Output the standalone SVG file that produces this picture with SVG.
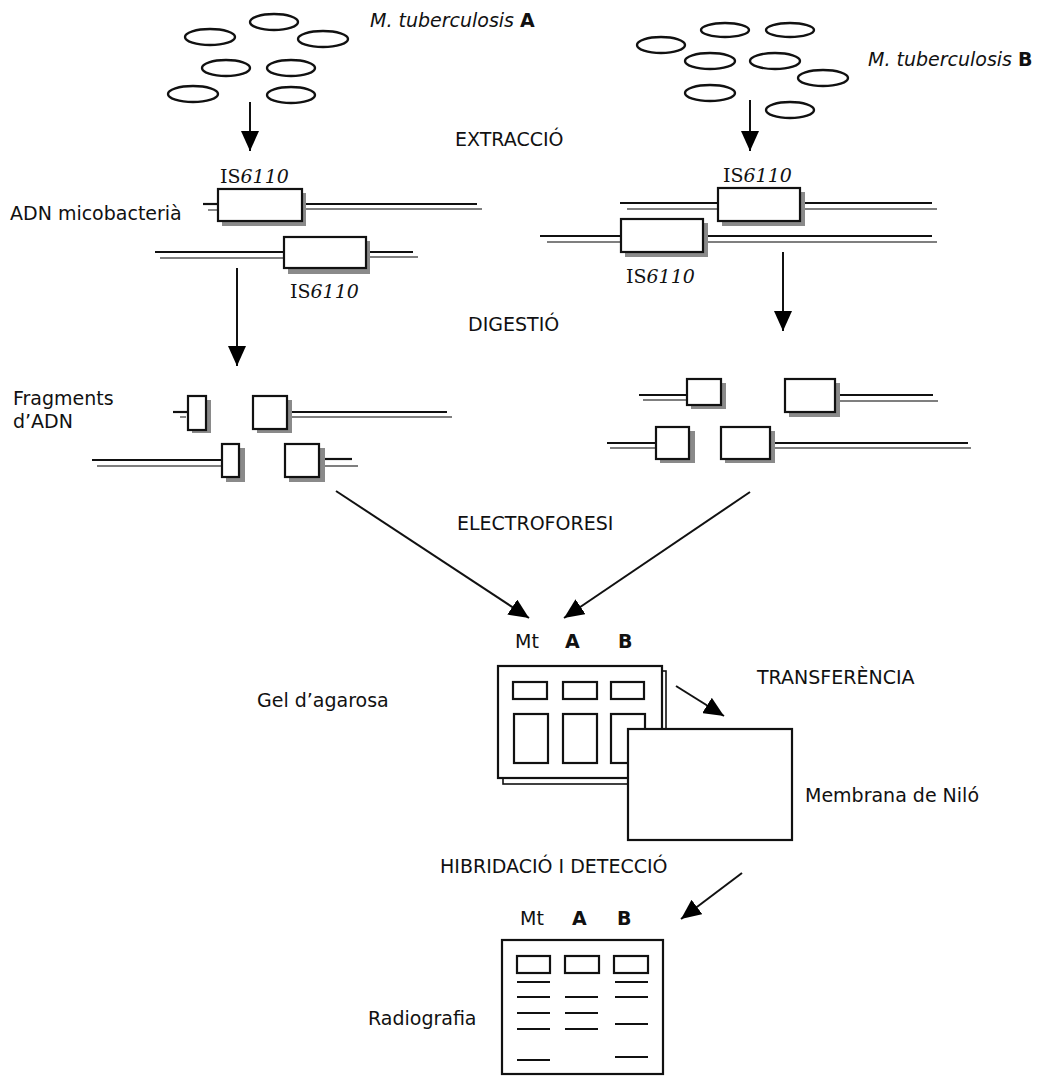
<svg xmlns="http://www.w3.org/2000/svg" width="1047" height="1077" viewBox="0 0 1047 1077">
<defs>
<marker id="ah" viewBox="0 0 20 18" refX="20" refY="9" markerWidth="20" markerHeight="18" markerUnits="userSpaceOnUse" orient="auto">
<path d="M0,0 L20,9 L0,18 z" fill="#000"/>
</marker>
</defs>
<style>
text{font-family:"DejaVu Sans","Verdana",sans-serif;font-size:19px;fill:#111}
.is{font-family:"DejaVu Serif","Liberation Serif",serif;font-size:19px}
.it{font-style:italic}
.b{font-weight:bold}
.cell{fill:none;stroke:#111;stroke-width:2.2}
.box{fill:#fff;stroke:#111;stroke-width:2.2}
.sh{fill:#8a8a8a}
.dna1{stroke:#111;stroke-width:2.2}
.dna2{stroke:#555;stroke-width:1.4}
.arr{stroke:#111;stroke-width:2;fill:none;marker-end:url(#ah)}
.band{stroke:#111;stroke-width:2}
.wellr{fill:#fff;stroke:#111;stroke-width:2.2}
</style>
<rect width="1047" height="1077" fill="#fff"/>

<g id="bacteriaA" fill="none" stroke="#111" stroke-width="2.4">
<ellipse cx="274" cy="22" rx="24" ry="8"/>
<ellipse cx="210" cy="37" rx="25" ry="8"/>
<ellipse cx="323" cy="39" rx="25" ry="8"/>
<ellipse cx="226" cy="68" rx="24" ry="8"/>
<ellipse cx="291" cy="68" rx="24" ry="8"/>
<ellipse cx="193" cy="94" rx="25" ry="8"/>
<ellipse cx="291" cy="95" rx="24" ry="8"/>
</g>
<g id="labelA"><text x="370" y="27"><tspan class="it">M. tuberculosis</tspan> <tspan class="b">A</tspan></text></g>

<g id="bacteriaB" fill="none" stroke="#111" stroke-width="2.4">
<ellipse cx="661" cy="45" rx="24" ry="8"/>
<ellipse cx="725" cy="30" rx="24" ry="7"/>
<ellipse cx="790" cy="30" rx="24" ry="7"/>
<ellipse cx="710" cy="61" rx="25" ry="8"/>
<ellipse cx="775" cy="61" rx="25" ry="8"/>
<ellipse cx="823" cy="78" rx="25" ry="8"/>
<ellipse cx="710" cy="93" rx="25" ry="8"/>
<ellipse cx="790" cy="110" rx="24" ry="8"/>
</g>
<g id="labelB"><text x="868" y="66"><tspan class="it">M. tuberculosis</tspan> <tspan class="b">B</tspan></text></g>

<g id="steps">
<text x="455" y="146">EXTRACCIÓ</text>
<text x="468" y="331">DIGESTIÓ</text>
<text x="457" y="530">ELECTROFORESI</text>
<text x="757" y="684">TRANSFERÈNCIA</text>
<text x="440" y="873">HIBRIDACIÓ I DETECCIÓ</text>
</g>

<g id="dnaA">
<text x="10" y="220">ADN micobacterià</text>
<text class="is" x="220" y="183">IS<tspan class="it">6110</tspan></text>
<text class="is" x="290" y="298">IS<tspan class="it">6110</tspan></text>
<line class="dna1" x1="203" y1="204" x2="218" y2="204"/>
<line class="dna2" x1="208" y1="210" x2="218" y2="210"/>
<line class="dna1" x1="306" y1="204" x2="477" y2="204"/>
<line class="dna2" x1="306" y1="209" x2="482" y2="209"/>
<rect class="sh" x="222" y="193" width="84" height="33"/>
<rect class="box" x="218" y="189" width="84" height="32"/>
<line class="dna1" x1="155" y1="252" x2="284" y2="252"/>
<line class="dna2" x1="160" y1="258" x2="284" y2="258"/>
<line class="dna1" x1="370" y1="252" x2="413" y2="252"/>
<line class="dna2" x1="370" y1="257" x2="418" y2="257"/>
<rect class="sh" x="288" y="241" width="82" height="33"/>
<rect class="box" x="284" y="237" width="82" height="31"/>
</g>

<g id="dnaB">
<text class="is" x="723" y="182">IS<tspan class="it">6110</tspan></text>
<text class="is" x="626" y="283">IS<tspan class="it">6110</tspan></text>
<line class="dna1" x1="620" y1="203" x2="718" y2="203"/>
<line class="dna2" x1="627" y1="209" x2="718" y2="209"/>
<line class="dna1" x1="805" y1="203" x2="932" y2="203"/>
<line class="dna2" x1="805" y1="209" x2="937" y2="209"/>
<rect class="sh" x="722" y="192" width="83" height="34"/>
<rect class="box" x="718" y="188" width="82" height="33"/>
<line class="dna1" x1="540" y1="236" x2="621" y2="236"/>
<line class="dna2" x1="547" y1="242" x2="621" y2="242"/>
<line class="dna1" x1="708" y1="236" x2="932" y2="236"/>
<line class="dna2" x1="708" y1="242" x2="937" y2="242"/>
<rect class="sh" x="625" y="223" width="83" height="34"/>
<rect class="box" x="621" y="219" width="82" height="33"/>
</g>

<g id="fragmentsA">
<text x="13" y="405">Fragments</text>
<text x="13" y="428">d’ADN</text>
<line class="dna1" x1="173" y1="412" x2="188" y2="412"/>
<line class="dna2" x1="180" y1="417" x2="186" y2="417"/>
<rect class="sh" x="192" y="400" width="19" height="33"/>
<rect class="box" x="188" y="396" width="18" height="34"/>
<line class="dna1" x1="292" y1="412" x2="447" y2="412"/>
<line class="dna2" x1="292" y1="417" x2="452" y2="417"/>
<rect class="sh" x="257" y="400" width="35" height="33"/>
<rect class="box" x="253" y="396" width="34" height="33"/>
<line class="dna1" x1="92" y1="460" x2="222" y2="460"/>
<line class="dna2" x1="97" y1="466" x2="222" y2="466"/>
<rect class="sh" x="226" y="448" width="19" height="34"/>
<rect class="box" x="222" y="444" width="17" height="33"/>
<line class="dna1" x1="325" y1="459" x2="352" y2="459"/>
<line class="dna2" x1="325" y1="466" x2="358" y2="466"/>
<rect class="sh" x="289" y="448" width="36" height="34"/>
<rect class="box" x="285" y="444" width="34" height="33"/>
</g>

<g id="fragmentsB">
<line class="dna1" x1="639" y1="395" x2="687" y2="395"/>
<line class="dna2" x1="643" y1="400" x2="687" y2="400"/>
<rect class="sh" x="691" y="383" width="35" height="26"/>
<rect class="box" x="687" y="379" width="34" height="26"/>
<line class="dna1" x1="840" y1="395" x2="933" y2="395"/>
<line class="dna2" x1="840" y1="401" x2="938" y2="401"/>
<rect class="sh" x="789" y="383" width="51" height="34"/>
<rect class="box" x="785" y="379" width="50" height="33"/>
<line class="dna1" x1="607" y1="443" x2="656" y2="443"/>
<line class="dna2" x1="610" y1="448" x2="656" y2="448"/>
<rect class="sh" x="660" y="431" width="35" height="32"/>
<rect class="box" x="656" y="427" width="33" height="32"/>
<line class="dna1" x1="775" y1="443" x2="968" y2="443"/>
<line class="dna2" x1="775" y1="448" x2="971" y2="448"/>
<rect class="sh" x="725" y="431" width="50" height="32"/>
<rect class="box" x="721" y="427" width="49" height="32"/>
</g>

<g id="gel">
<text x="515" y="648">Mt</text>
<text class="b" x="565" y="648">A</text>
<text class="b" x="618" y="648">B</text>
<rect x="503" y="671" width="163" height="113" fill="#fff" stroke="#111" stroke-width="1.6"/>
<rect x="498" y="666" width="164" height="112" fill="#fff" stroke="#111" stroke-width="2.2"/>
<rect class="cell" x="513" y="682" width="34" height="17"/>
<rect class="cell" x="563" y="682" width="34" height="17"/>
<rect class="cell" x="611" y="682" width="33" height="17"/>
<rect class="cell" x="514" y="714" width="34" height="49"/>
<rect class="cell" x="563" y="714" width="34" height="49"/>
<rect class="cell" x="611" y="714" width="34" height="49"/>
<text x="257" y="707">Gel d’agarosa</text>
</g>

<g id="membrane">
<rect x="628" y="729" width="164" height="111" fill="#fff" stroke="#111" stroke-width="2.2"/>
<text x="805" y="802">Membrana de Niló</text>
</g>

<g id="radiograph">
<text x="520" y="925">Mt</text>
<text class="b" x="572" y="925">A</text>
<text class="b" x="617" y="925">B</text>
<rect x="502" y="940" width="161" height="134" fill="#fff" stroke="#111" stroke-width="2.2"/>
<rect class="wellr" x="517" y="956" width="33" height="17"/>
<rect class="wellr" x="565" y="956" width="34" height="17"/>
<rect class="wellr" x="614" y="956" width="34" height="17"/>
<line class="band" x1="517" y1="982" x2="550" y2="982"/>
<line class="band" x1="517" y1="997" x2="550" y2="997"/>
<line class="band" x1="517" y1="1013" x2="550" y2="1013"/>
<line class="band" x1="517" y1="1029" x2="550" y2="1029"/>
<line class="band" x1="517" y1="1060" x2="550" y2="1060"/>
<line class="band" x1="565" y1="997" x2="598" y2="997"/>
<line class="band" x1="565" y1="1013" x2="598" y2="1013"/>
<line class="band" x1="565" y1="1029" x2="598" y2="1029"/>
<line class="band" x1="615" y1="982" x2="648" y2="982"/>
<line class="band" x1="615" y1="997" x2="648" y2="997"/>
<line class="band" x1="615" y1="1024" x2="648" y2="1024"/>
<line class="band" x1="615" y1="1057" x2="648" y2="1057"/>
<text x="368" y="1025">Radiografia</text>
</g>

<g id="connectors">
<line class="arr" x1="250" y1="102" x2="250" y2="151"/>
<line class="arr" x1="750" y1="100" x2="750" y2="151"/>
<line class="arr" x1="237" y1="268" x2="237" y2="366"/>
<line class="arr" x1="783" y1="252" x2="783" y2="331"/>
<line class="arr" x1="336" y1="491" x2="529" y2="618"/>
<line class="arr" x1="750" y1="492" x2="564" y2="618"/>
<line class="arr" x1="676" y1="686" x2="724" y2="716"/>
<line class="arr" x1="742" y1="873" x2="681" y2="919"/>
</g>
</svg>
